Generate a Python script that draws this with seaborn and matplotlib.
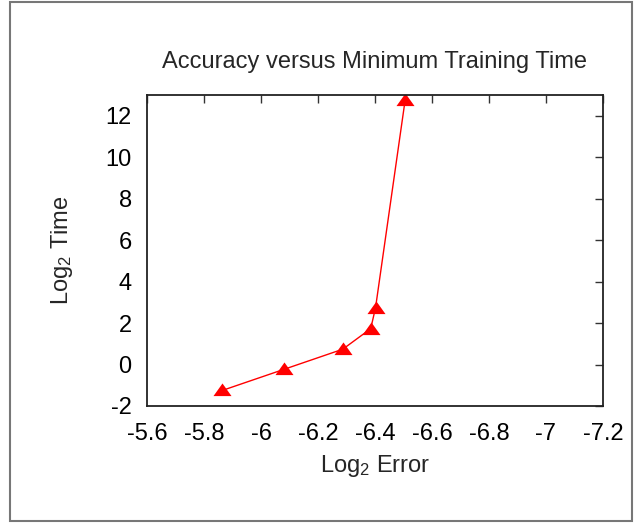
import matplotlib
matplotlib.use("Agg")
import matplotlib.pyplot as plt
import numpy as np
import pandas as pd
import seaborn as sns
from matplotlib.path import Path
from matplotlib.patches import Rectangle

# log2 of the test error and log2 of the minimum training time for each run
log2_error = [-5.864, -6.081, -6.287, -6.385, -6.402, -6.506]
log2_time = [-1.25, -0.23, 0.74, 1.73, 2.75, 12.78]

x_ticks = [-5.6, -5.8, -6.0, -6.2, -6.4, -6.6, -6.8, -7.0, -7.2]
x_tick_labels = ["-5.6", "-5.8", "-6", "-6.2", "-6.4", "-6.6", "-6.8", "-7", "-7.2"]
y_ticks = [-2, 0, 2, 4, 6, 8, 10, 12]
y_tick_labels = ["-2", "0", "2", "4", "6", "8", "10", "12"]

title = "Accuracy versus Minimum Training Time"
x_label = r"Log$_2$ Error"
y_label = r"Log$_2$ Time"

sns.set_theme(style="white")
plt.rcParams["font.family"] = ["Liberation Sans", "DejaVu Sans"]
plt.rcParams["mathtext.fontset"] = "custom"
plt.rcParams["mathtext.rm"] = "Liberation Sans"
plt.rcParams["mathtext.it"] = "Liberation Sans"
plt.rcParams["mathtext.default"] = "regular"

FS = 17

df = pd.DataFrame({"err": log2_error, "time": log2_time})

fig = plt.figure(figsize=(6.38, 5.23), dpi=100)
W, H = 638, 523
ax = fig.add_axes([147 / W, 1 - 406 / H, (603 - 147) / W, (406 - 95) / H])

# flattened up-pointing triangle marker
tri = Path([(-1.0, -0.62), (1.0, -0.62), (0.0, 0.78), (-1.0, -0.62)],
           [Path.MOVETO, Path.LINETO, Path.LINETO, Path.CLOSEPOLY])

sns.lineplot(data=df, x="err", y="time", sort=False, ax=ax, color="#ff0000",
             linewidth=1.0, marker=tri, markersize=13, markeredgewidth=0,
             markerfacecolor="#ff0000")

ax.set_xlim(-5.6, -7.2)
ax.set_ylim(-2, 13)
ax.set_xticks(x_ticks, x_tick_labels)
ax.set_yticks(y_ticks, y_tick_labels)
ax.tick_params(direction="in", length=6, width=1, color="#333333",
               top=True, right=True, labelsize=FS, labelcolor="black")
ax.tick_params(axis="x", pad=12)
ax.tick_params(axis="y", pad=11)
for s in ax.spines.values():
    s.set_visible(True)
    s.set_color("#222222")
    s.set_linewidth(1.3)
ax.set_xlabel("")
ax.set_ylabel("")
ax.grid(False)

fig.text(375 / W, 1 - 68 / H, title, ha="center", va="baseline", fontsize=FS)
fig.text(375 / W, 1 - 472 / H, x_label, ha="center", va="baseline", fontsize=FS)
fig.text(62 / W, 1 - 250 / H, y_label, ha="center", va="center",
         rotation=90, fontsize=FS)

# outer frame around the whole figure
fig.patches.append(Rectangle((9.5 / W, 2.5 / H), (632 - 9.5) / W, (521 - 2.5) / H,
                             transform=fig.transFigure, fill=False,
                             edgecolor="#777777", linewidth=1.5))

fig.savefig("out.png", dpi=100)
